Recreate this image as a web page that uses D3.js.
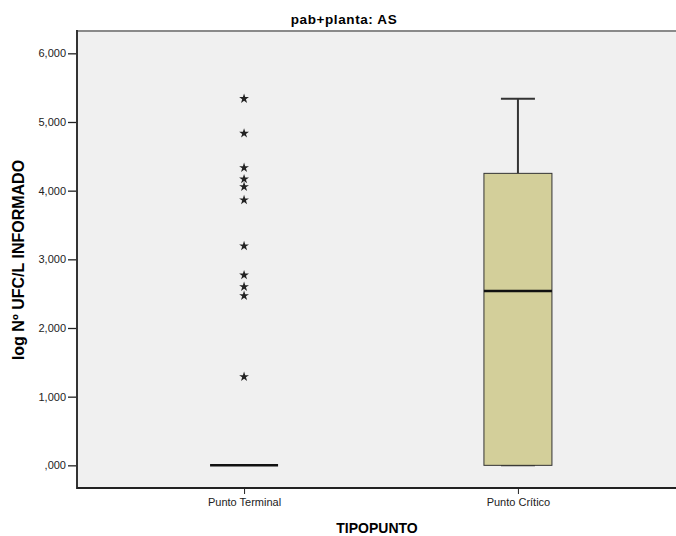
<!DOCTYPE html>
<html>
<head>
<meta charset="utf-8">
<script src="https://cdn.jsdelivr.net/npm/d3@7"></script>
<style>
  body { margin: 0; background: #fff; }
  svg { display: block; font-family: Arial, "Liberation Sans", sans-serif; }
</style>
</head>
<body>
<svg id="chart" width="676" height="536"></svg>
<script>
// categories on the x axis
const categories = ["Punto Terminal", "Punto Crítico"];
// box statistics per category: [min, q1, median, q3, max]
const boxStats = [
  [0, 0, 0, 0, 0],
  [0, 0, 2.538, 4.252, 5.339]
];
// extreme values (stars) per category
const extremes = [
  [5.339, 4.835, 4.334, 4.169, 4.057, 3.864, 3.194, 2.771, 2.601, 2.470, 1.290],
  []
];
const yTicks = [0, 1, 2, 3, 4, 5, 6];

const margin = {left: 77, top: 31, right: -9, bottom: 48};
const W = 676, H = 536;
const svg = d3.select("#chart");

// y: 0 sits on pixel 465, 1,000 units is ~68.7px
const yScale = d3.scaleLinear()
  .domain([-0.33, 6.325])
  .range([H - margin.bottom, margin.top]);
const xScale = d3.scalePoint()
  .domain(categories)
  .range([margin.left, W - margin.right])
  .padding(0.61);

const fmt = d => d === 0 ? ",000" : d3.format(",")(d) + ",000";

// plot background
svg.append("rect")
  .attr("x", margin.left)
  .attr("y", margin.top)
  .attr("width", W - margin.right - margin.left)
  .attr("height", yScale.range()[0] - margin.top)
  .style("fill", "#f0f0f0");

// frame: gray top, dark left and bottom
svg.append("line")
  .attr("x1", margin.left).attr("x2", W)
  .attr("y1", margin.top).attr("y2", margin.top)
  .style("stroke", "#8a8a8a").style("stroke-width", 2);

// y axis
const yAxis = svg.append("g")
  .attr("transform", `translate(${margin.left},0)`)
  .call(d3.axisLeft(yScale).tickValues(yTicks).tickFormat(fmt).tickSize(9).tickPadding(2));
yAxis.select(".domain").remove();
yAxis.selectAll(".tick line").style("stroke", "#222").style("stroke-width", 1.3);
yAxis.selectAll(".tick text").style("font-size", "11px").style("fill", "#222");
svg.append("line")
  .attr("x1", margin.left).attr("x2", margin.left)
  .attr("y1", margin.top - 1).attr("y2", yScale.range()[0] + 1)
  .style("stroke", "#333").style("stroke-width", 2);

// x axis
const xAxis = svg.append("g")
  .attr("transform", `translate(0,${yScale.range()[0]})`)
  .call(d3.axisBottom(xScale).tickSize(6).tickPadding(4));
xAxis.select(".domain").remove();
xAxis.selectAll(".tick line").style("stroke", "#222");
xAxis.selectAll(".tick text").style("font-size", "11px").style("fill", "#222");
svg.append("line")
  .attr("x1", margin.left).attr("x2", W)
  .attr("y1", yScale.range()[0]).attr("y2", yScale.range()[0])
  .style("stroke", "#222").style("stroke-width", 2);

const boxW = 68;
const capW = 34;

// boxes
const boxes = svg.selectAll(".box")
    .data(categories.map((c, i) => ({cat: c, s: boxStats[i], ext: extremes[i]})))
  .enter().append("g")
    .attr("class", "box")
    .attr("transform", d => `translate(${xScale(d.cat)},0)`);

boxes.filter(d => d.s[4] > d.s[3])
  .append("line")
    .attr("x1", 0).attr("x2", 0)
    .attr("y1", d => yScale(d.s[4]))
    .attr("y2", d => yScale(d.s[3]))
    .style("stroke", "#333").style("stroke-width", 2);

boxes.filter(d => d.s[4] > d.s[0])
  .selectAll(".cap")
    .data(d => [d.s[0], d.s[4]])
  .enter().append("line")
    .attr("class", "cap")
    .attr("x1", -capW / 2).attr("x2", capW / 2)
    .attr("y1", v => yScale(v)).attr("y2", v => yScale(v))
    .style("stroke", "#333").style("stroke-width", 2);

boxes.filter(d => d.s[3] > d.s[1])
  .append("rect")
    .attr("x", -boxW / 2)
    .attr("width", boxW)
    .attr("y", d => yScale(d.s[3]))
    .attr("height", d => yScale(d.s[1]) - yScale(d.s[3]))
    .style("fill", "#d3cf9a")
    .style("stroke", "#333")
    .style("stroke-width", 1);

boxes.append("line")
  .attr("x1", -boxW / 2).attr("x2", boxW / 2)
  .attr("y1", d => yScale(d.s[2])).attr("y2", d => yScale(d.s[2]))
  .style("stroke", "#111").style("stroke-width", 2.5);

// extreme values as stars
boxes.selectAll(".star")
    .data(d => d.ext)
  .enter().append("path")
    .attr("class", "star")
    .attr("d", d3.symbol().type(d3.symbolStar).size(30))
    .attr("transform", v => `translate(0,${yScale(v)})`)
    .style("fill", "#222");

// title and axis labels
svg.append("text")
  .attr("x", 344).attr("y", 24)
  .attr("text-anchor", "middle")
  .style("font-size", "13.5px").style("font-weight", "bold")
  .style("letter-spacing", "0.6px")
  .text("pab+planta: AS");

svg.append("text")
  .attr("transform", "translate(24,260) rotate(-90)")
  .attr("text-anchor", "middle")
  .style("font-size", "16px").style("font-weight", "bold")
  .text("log Nº UFC/L INFORMADO");

svg.append("text")
  .attr("x", 377).attr("y", 533)
  .attr("text-anchor", "middle")
  .style("font-size", "14px").style("font-weight", "bold")
  .text("TIPOPUNTO");
</script>
</body>
</html>
